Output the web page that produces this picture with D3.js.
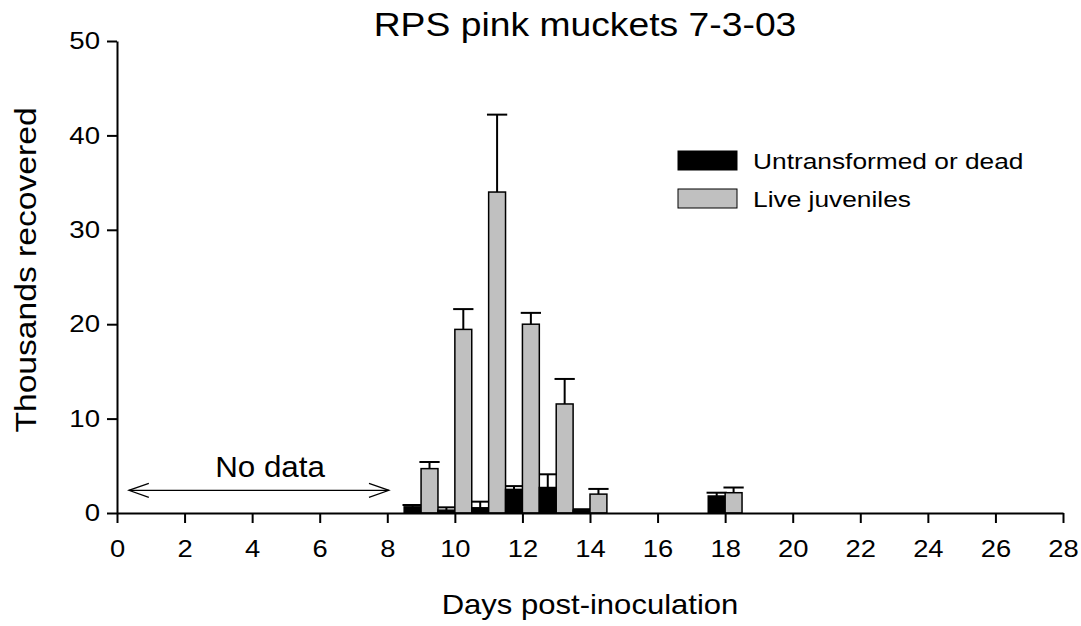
<!DOCTYPE html>
<html>
<head>
<meta charset="utf-8">
<title>RPS pink muckets 7-3-03</title>
<script src="https://d3js.org/d3.v7.min.js"></script>
<style>
  body { margin: 0; background: #fff; }
  svg { font-family: "Liberation Sans", Arial, sans-serif; }
</style>
</head>
<body>
<svg id="chart" width="1081" height="626"></svg>
<script>
  // values (thousands)
  const days = [9, 10, 11, 12, 13, 14, 18];
  const deadVals = [0.65, 0.3, 0.55, 2.5, 2.7, 0.3, 1.8];
  const deadErr = [0.2, 0.3, 0.65, 0.35, 1.4, 0.1, 0.35];
  const liveVals = [4.7, 19.45, 34.0, 20.0, 11.55, 2.0, 2.15];
  const liveErr = [0.7, 2.15, 8.2, 1.2, 2.65, 0.55, 0.55];
  const xTicks = d3.range(0, 29, 2);
  const yTicks = [0, 10, 20, 30, 40, 50];
  const seriesNames = ["Untransformed or dead", "Live juveniles"];
  const seriesColors = ["#000000", "#c0c0c0"];

  const svg = d3.select("#chart");
  const x = d3.scaleLinear().domain([0, 28]).range([117, 1063]);
  const y = d3.scaleLinear().domain([0, 50]).range([513, 41]);
  const halfDay = 0.5;

  // text is a bit wider than plain Arial in the original, so stretch it horizontally
  function label(parent, px, py, str, size, sx, anchor, rot) {
    return parent.append("text")
      .attr("transform", `translate(${px},${py})` + (rot ? ` rotate(${rot})` : "") + ` scale(${sx},1)`)
      .attr("text-anchor", anchor || "start")
      .style("font-size", size + "px")
      .attr("fill", "#000")
      .text(str);
  }

  // title
  label(svg, 585, 36, "RPS pink muckets 7-3-03", 33, 1.13, "middle");

  // bars: dead on left of the day, live on the right
  const bars = [];
  days.forEach((d, i) => {
    bars.push({ x0: d - halfDay, v: deadVals[i], e: deadErr[i], c: seriesColors[0] });
    bars.push({ x0: d, v: liveVals[i], e: liveErr[i], c: seriesColors[1] });
  });

  const g = svg.append("g");
  const barW = x(halfDay) - x(0);

  // error bars (drawn first so the bar outline sits on top)
  bars.forEach(b => {
    const cx = x(b.x0 + halfDay / 2);
    g.append("line")
      .attr("x1", cx).attr("x2", cx)
      .attr("y1", y(b.v)).attr("y2", y(b.v + b.e))
      .attr("stroke", "#000").attr("stroke-width", 2);
    g.append("line")
      .attr("x1", cx - barW * 0.6).attr("x2", cx + barW * 0.6)
      .attr("y1", y(b.v + b.e)).attr("y2", y(b.v + b.e))
      .attr("stroke", "#000").attr("stroke-width", 2);
  });

  g.selectAll("rect.bar")
    .data(bars)
    .enter().append("rect")
    .attr("class", "bar")
    .attr("x", d => x(d.x0))
    .attr("y", d => y(d.v))
    .attr("width", barW)
    .attr("height", d => y(0) - y(d.v))
    .attr("fill", d => d.c)
    .attr("stroke", "#000")
    .attr("stroke-width", 1.5);

  // axes
  const xAxis = svg.append("g")
    .attr("transform", `translate(0, ${y(0)})`)
    .call(d3.axisBottom(x).tickValues(xTicks).tickSize(10).tickSizeOuter(0).tickPadding(17));
  const yAxis = svg.append("g")
    .attr("transform", `translate(${x(0)}, 0)`)
    .call(d3.axisLeft(y).tickValues(yTicks).tickSize(10).tickSizeOuter(0).tickPadding(7));

  [xAxis, yAxis].forEach(ax => {
    ax.selectAll("path, line").attr("stroke", "#000").attr("stroke-width", 2);
    ax.selectAll("text").style("font-size", "24px").attr("fill", "#000")
      .style("font-family", "'Liberation Sans', Arial, sans-serif");
  });
  // widen tick labels a little, keeping their anchor point
  xAxis.selectAll(".tick text").attr("transform", "scale(1.14,1)");
  yAxis.selectAll(".tick text")
    .attr("transform", "translate(-17,0) scale(1.15,1) translate(17,0)");

  // axis titles
  label(svg, 590, 614, "Days post-inoculation", 27, 1.15, "middle");
  label(svg, 36, 270, "Thousands recovered", 29, 1.16, "middle", -90);

  // "No data" annotation
  const ay = y(2.4);
  const ax0 = x(0.35), ax1 = x(8.05);
  svg.append("line")
    .attr("x1", ax0).attr("x2", ax1).attr("y1", ay).attr("y2", ay)
    .attr("stroke", "#000").attr("stroke-width", 1.2);
  svg.append("path")
    .attr("d", `M${ax0 + 20},${ay - 7} L${ax0},${ay} L${ax0 + 20},${ay + 7}`)
    .attr("fill", "none").attr("stroke", "#000").attr("stroke-width", 1.2);
  svg.append("path")
    .attr("d", `M${ax1 - 20},${ay - 7} L${ax1},${ay} L${ax1 - 20},${ay + 7}`)
    .attr("fill", "none").attr("stroke", "#000").attr("stroke-width", 1.2);
  label(svg, 270, 477, "No data", 29, 1.08, "middle");

  // legend
  const legend = svg.append("g").attr("transform", "translate(678, 151)");
  seriesNames.forEach((name, i) => {
    legend.append("rect")
      .attr("x", 0).attr("y", i * 38)
      .attr("width", 59).attr("height", 19)
      .attr("fill", seriesColors[i])
      .attr("stroke", "#000").attr("stroke-width", 1);
    label(legend, 75, i * 38 + 18, name, 22.5, 1.17, "start");
  });
</script>
</body>
</html>
